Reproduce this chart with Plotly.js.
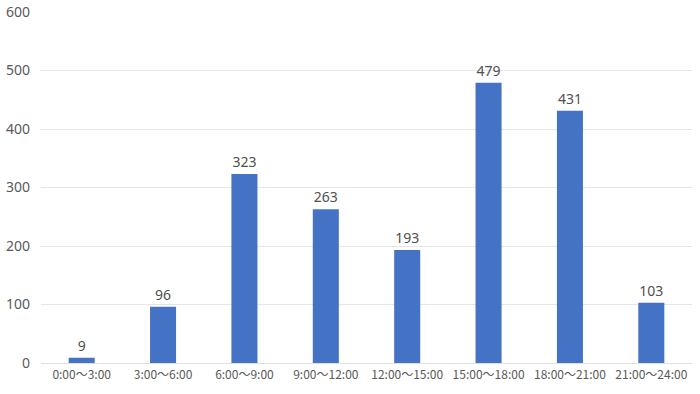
<!DOCTYPE html>
<html><head><meta charset="utf-8">
<script src="https://cdn.plot.ly/plotly-3.0.1.min.js"></script>
<style>html,body{margin:0;padding:0;background:#fff;}#chart{width:700px;height:394px;}</style>
</head><body><div id="chart"></div>
<script>
const categories = ["0:00～3:00","3:00～6:00","6:00～9:00","9:00～12:00","12:00～15:00","15:00～18:00","18:00～21:00","21:00～24:00"];
const values = [9, 96, 323, 263, 193, 479, 431, 103];
const yTicks = [0, 100, 200, 300, 400, 500, 600];

Plotly.newPlot('chart', [{
  type: 'bar',
  x: categories,
  y: values,
  marker: {color: '#4472C4'},
  text: values.map(String),
  textposition: 'outside',
  cliponaxis: false,
  textfont: {family: 'Noto Sans, sans-serif', size: 14, color: '#505050'},
  hoverinfo: 'none'
}], {
  width: 700, height: 394,
  margin: {l: 41, r: 8, t: 12, b: 31},
  paper_bgcolor: '#fff', plot_bgcolor: '#fff',
  bargap: 0.68,
  showlegend: false,
  font: {family: 'Noto Sans CJK JP, Noto Sans, sans-serif', color: '#595959'},
  xaxis: {
    type: 'category',
    tickfont: {size: 12, color: '#595959', family: 'Noto Sans CJK JP, sans-serif'},
    showgrid: false, showline: false, zeroline: false, ticks: '',
    ticklabelstandoff: 3
  },
  yaxis: {
    range: [0, 600],
    tickvals: yTicks,
    ticktext: yTicks.map(String),
    tickfont: {size: 14, color: '#595959', family: 'Noto Sans, sans-serif'},
    showgrid: true, gridcolor: '#e6e6e6', gridwidth: 1,
    zeroline: true, zerolinecolor: '#e0e0e0', zerolinewidth: 1,
    ticks: '', showline: false,
    ticklabelstandoff: 10
  }
}, {staticPlot: true});
</script></body></html>
